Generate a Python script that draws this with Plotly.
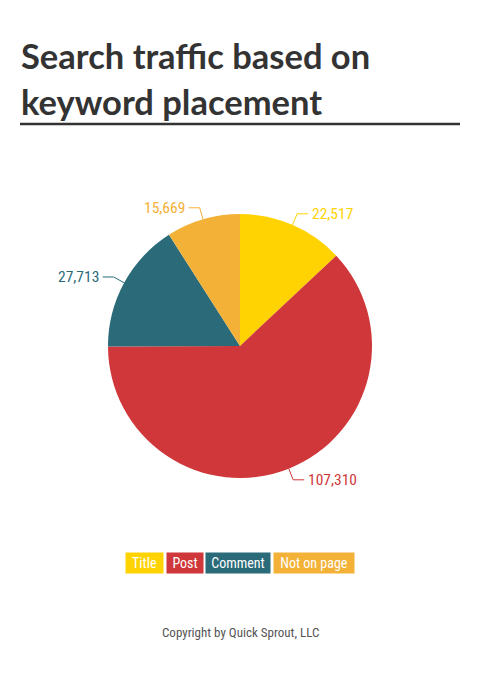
import math
import plotly.graph_objects as go

# data
categories = ["Title", "Post", "Comment", "Not on page"]
visits = [22517, 107310, 27713, 15669]
colors = ["#FFD302", "#D0373A", "#2A6A79", "#F3B138"]

# the page body has an 8px margin, so the figure is 464x662 and
# positions below are given in window pixels, shifted by 8
OFF = 8
W, H = 480 - 2 * OFF, 678 - 2 * OFF
cx, cy, r = 240, 346, 132  # pie centre / radius in window px

narrow = "Roboto Condensed, Liberation Sans Narrow, sans-serif"


def px(x):
    return (x - OFF) / W


def py(y):
    return 1 - (y - OFF) / H


fig = go.Figure(
    go.Pie(
        labels=categories,
        values=visits,
        sort=False,
        direction="clockwise",
        rotation=0,
        marker=dict(colors=colors, line=dict(width=0)),
        textinfo="none",
        hoverinfo="label+value",
        showlegend=False,
        domain=dict(x=[px(cx - r), px(cx + r)], y=[py(cy + r), py(cy - r)]),
    )
)

# leader lines + value labels, placed from each slice's mid angle
total = sum(visits)
start = 0
for v, c in zip(visits, colors):
    mid = (start + v / 2) / total * 2 * math.pi
    start += v
    sx, sy = math.sin(mid), -math.cos(mid)
    x0, y0 = cx + r * sx, cy + r * sy
    x1, y1 = cx + (r + 12) * sx, cy + (r + 12) * sy
    side = 1 if sx > 0 else -1
    x2 = x1 + 11 * side
    for a, b, c2, d in [(x0, y0, x1, y1), (x1, y1, x2, y1)]:
        fig.add_shape(type="line", xref="paper", yref="paper",
                      x0=px(a), y0=py(b), x1=px(c2), y1=py(d),
                      line=dict(color=c, width=1))
    fig.add_annotation(
        x=px(x2 + 2 * side), y=py(y1), xref="paper", yref="paper",
        text=f"{v:,}", showarrow=False,
        xanchor="left" if side > 0 else "right", yanchor="middle",
        font=dict(family=narrow, size=15.5, color=c),
    )

# title + underline
title_font = dict(family="Lato, Open Sans, sans-serif", size=34.5, color="#333333")
for txt, yy in [("<b>Search traffic based on</b>", 55), ("<b>keyword placement</b>", 101)]:
    fig.add_annotation(x=px(19), y=py(yy), xref="paper", yref="paper", text=txt,
                       showarrow=False, xanchor="left", yanchor="middle",
                       font=title_font)
fig.add_shape(type="line", xref="paper", yref="paper",
              x0=px(20), x1=px(460), y0=py(124), y1=py(124),
              line=dict(color="#333333", width=2.5))

# legend as coloured boxes
legend_boxes = [(144.5, 37), (185, 36), (238, 64), (314, 80)]
for name, c, (lx, lw) in zip(categories, colors, legend_boxes):
    fig.add_annotation(x=px(lx), y=py(563), xref="paper", yref="paper", text=name,
                       showarrow=False, xanchor="center", yanchor="middle",
                       width=lw, height=20, bgcolor=c, borderpad=0,
                       font=dict(family=narrow, size=14, color="white"))

fig.add_annotation(x=px(240), y=py(632), xref="paper", yref="paper",
                   text="Copyright by Quick Sprout, LLC", showarrow=False,
                   xanchor="center", yanchor="middle",
                   font=dict(family=narrow, size=13, color="#555555"))

fig.update_layout(
    width=W, height=H,
    margin=dict(l=0, r=0, t=0, b=0),
    paper_bgcolor="white", plot_bgcolor="white",
)

fig.write_html("out.html")
